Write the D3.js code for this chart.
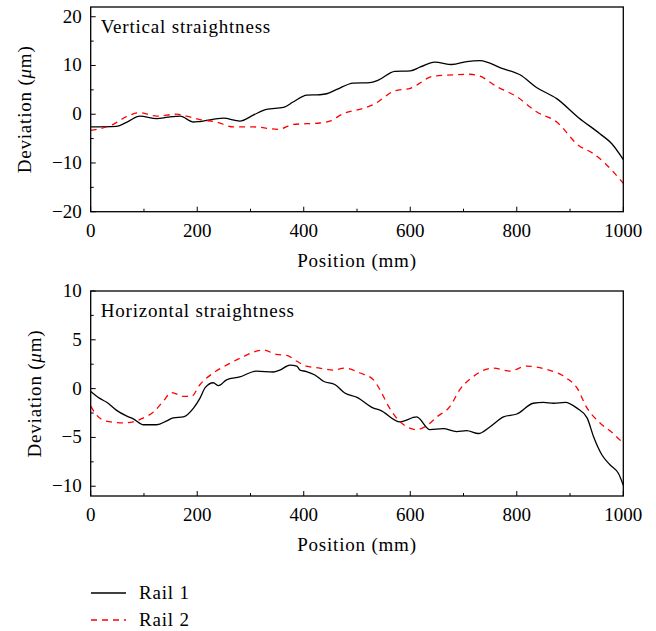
<!DOCTYPE html>
<html>
<head>
<meta charset="utf-8">
<script src="https://cdn.jsdelivr.net/npm/d3@7"></script>
<style>
  body { margin: 0; background: #fff; }
  svg { font-family: "Liberation Serif", "Times New Roman", serif; }
  .words { letter-spacing: 0.8px; }
</style>
</head>
<body>
<script>
// vertical straightness, [position mm, deviation um]
const vertRail1 = [
  [0, -2.6], [48, -2.5], [70, -1.5], [92, -0.4], [124, -0.9], [145, -0.6], [168, -0.4],
  [193, -1.6], [205, -1.5], [249, -0.8], [280, -1.4], [305, -0.2], [330, 1.0], [362, 1.4],
  [380, 2.5], [406, 3.9], [430, 4.0], [443, 4.2], [462, 5.1], [493, 6.4], [524, 6.5],
  [540, 7.0], [571, 8.8], [600, 8.9], [619, 9.7], [646, 10.7], [678, 10.2], [706, 10.8],
  [731, 11.0], [772, 9.4], [806, 8.1], [837, 5.5], [875, 3.2], [916, -0.7], [956, -4.0],
  [978, -6.0], [1000, -9.3]
];
const vertRail2 = [
  [0, -3.3], [42, -2.1], [67, -0.5], [92, 0.3], [124, -0.4], [161, 0.0], [180, -0.4],
  [205, -1.1], [236, -1.6], [268, -2.6], [305, -2.6], [352, -3.1], [380, -2.1], [430, -1.8],
  [449, -1.4], [474, 0.1], [512, 1.2], [531, 2.0], [571, 4.8], [600, 5.3], [643, 7.8],
  [668, 8.0], [712, 8.2], [731, 7.8], [762, 5.7], [800, 3.6], [837, 0.5], [875, -1.6],
  [916, -6.4], [944, -8.1], [966, -10.1], [1000, -14.2]
];

// horizontal straightness
const horzRail1 = [
  [0, -0.3], [17, -1.0], [30, -1.4], [48, -2.2], [67, -2.8], [80, -3.1], [99, -3.7],
  [124, -3.7], [143, -3.3], [155, -3.0], [174, -2.9], [193, -2.0], [205, -1.0], [215, 0.1],
  [230, 0.6], [240, 0.3], [255, 0.9], [280, 1.2], [311, 1.8], [343, 1.7], [355, 1.9],
  [374, 2.4], [387, 2.3], [393, 1.9], [405, 1.75], [421, 1.4], [437, 0.75], [459, 0.4],
  [477, -0.45], [500, -0.9], [531, -2.0], [543, -2.2], [581, -3.4], [612, -2.9],
  [637, -4.2], [662, -4.1], [687, -4.4], [706, -4.3], [728, -4.6], [750, -3.9],
  [775, -2.9], [800, -2.6], [831, -1.5], [850, -1.4], [869, -1.5], [891, -1.4],
  [913, -2.0], [932, -3.0], [944, -4.9], [960, -6.8], [975, -7.8], [991, -8.7], [1000, -9.9]
];
const horzRail2 = [
  [0, -1.8], [11, -2.7], [27, -3.3], [61, -3.5], [80, -3.4], [99, -3.0], [118, -2.4],
  [136, -1.3], [152, -0.4], [174, -0.8], [189, -0.8], [205, 0.4], [230, 1.6], [255, 2.4],
  [280, 3.1], [324, 3.95], [349, 3.5], [368, 3.4], [387, 2.8], [405, 2.3], [430, 2.1],
  [455, 1.9], [477, 2.1], [506, 1.6], [531, 0.9], [543, -0.1], [559, -1.8], [581, -3.4],
  [612, -4.2], [631, -3.8], [650, -2.9], [675, -1.8], [693, -0.1], [715, 1.1], [756, 2.1],
  [787, 1.8], [818, 2.3], [856, 1.96], [894, 1.06], [913, 0.07], [932, -2.0], [954, -3.4],
  [981, -4.6], [1000, -5.6]
];

const xTicks = [0, 200, 400, 600, 800, 1000];
const vertTicks = [-20, -10, 0, 10, 20];
const horzTicks = [-10, -5, 0, 5, 10];
const seriesNames = ["Rail 1", "Rail 2"];

const svg = d3.select("body").append("svg")
  .attr("width", 656)
  .attr("height", 631);

function drawPanel(opt) {
  const x = d3.scaleLinear().domain([0, 1000]).range([90.7, 623.3]);
  const y = d3.scaleLinear().domain(opt.domain).range([opt.bottom, opt.top]);
  const g = svg.append("g");

  // minor ticks (inside)
  g.selectAll(".xminor").data(d3.range(100, 1000, 200)).join("line")
    .attr("x1", d => x(d)).attr("x2", d => x(d))
    .attr("y1", opt.bottom).attr("y2", opt.bottom - 3)
    .attr("stroke", "#000");
  g.selectAll(".xmajor").data(xTicks).join("line")
    .attr("x1", d => x(d)).attr("x2", d => x(d))
    .attr("y1", opt.bottom).attr("y2", opt.bottom - 5)
    .attr("stroke", "#000");
  g.selectAll(".yminor").data(opt.minor).join("line")
    .attr("x1", x(0)).attr("x2", x(0) + 3)
    .attr("y1", d => y(d)).attr("y2", d => y(d))
    .attr("stroke", "#000");
  g.selectAll(".ymajor").data(opt.ticks).join("line")
    .attr("x1", x(0)).attr("x2", x(0) + 5)
    .attr("y1", d => y(d)).attr("y2", d => y(d))
    .attr("stroke", "#000");

  // tick labels
  g.selectAll(".xlab").data(xTicks).join("text")
    .attr("x", d => x(d)).attr("y", opt.bottom + 25)
    .attr("text-anchor", "middle")
    .attr("font-size", 19)
    .text(d => d);
  g.selectAll(".ylab").data(opt.ticks).join("text")
    .attr("x", x(0) - 9).attr("y", d => y(d) + 6)
    .attr("text-anchor", "end")
    .attr("font-size", 19)
    .text(d => d < 0 ? "\u2212" + Math.abs(d) : d);

  // lines
  const line = d3.line().x(d => x(d[0])).y(d => y(d[1])).curve(d3.curveMonotoneX);
  g.append("path").datum(opt.rail1)
    .attr("d", line).attr("fill", "none")
    .attr("stroke", "#000").attr("stroke-width", 1.3);
  g.append("path").datum(opt.rail2)
    .attr("d", line).attr("fill", "none")
    .attr("stroke", "#ff0000").attr("stroke-width", 1.3)
    .attr("stroke-dasharray", "6,5");

  // frame
  g.append("rect")
    .attr("x", x(0)).attr("y", opt.top)
    .attr("width", x(1000) - x(0)).attr("height", opt.bottom - opt.top)
    .attr("fill", "none").attr("stroke", "#000").attr("stroke-width", 1.3);

  g.append("text").attr("class", "words")
    .attr("x", x(0) + 10).attr("y", opt.top + 26)
    .attr("font-size", 19)
    .text(opt.title);

  g.append("text").attr("class", "words")
    .attr("x", (x(0) + x(1000)) / 2).attr("y", opt.bottom + 55)
    .attr("text-anchor", "middle")
    .attr("font-size", 19)
    .text("Position (mm)");

  const yt = g.append("text").attr("class", "words")
    .attr("transform", `translate(${opt.ylabX},${(opt.top + opt.bottom) / 2}) rotate(-90)`)
    .attr("text-anchor", "middle")
    .attr("font-size", 19);
  yt.append("tspan").text("Deviation (");
  yt.append("tspan").attr("font-style", "italic").text("\u03bc");
  yt.append("tspan").text("m)");
}

drawPanel({
  title: "Vertical straightness",
  domain: [-20, 22], top: 7, bottom: 211.7,
  ticks: vertTicks, minor: [-15, -5, 5, 15],
  rail1: vertRail1, rail2: vertRail2, ylabX: 31
});

drawPanel({
  title: "Horizontal straightness",
  domain: [-11, 10], top: 291, bottom: 496,
  ticks: horzTicks, minor: [-7.5, -2.5, 2.5, 7.5],
  rail1: horzRail1, rail2: horzRail2, ylabX: 41
});

// legend
const legend = svg.append("g");
legend.selectAll("line").data(seriesNames).join("line")
  .attr("x1", 91).attr("x2", 126)
  .attr("y1", (d, i) => 593 + i * 27).attr("y2", (d, i) => 593 + i * 27)
  .attr("stroke", (d, i) => i ? "#ff0000" : "#000")
  .attr("stroke-width", 1.3)
  .attr("stroke-dasharray", (d, i) => i ? "6,5" : null);
legend.selectAll("text").data(seriesNames).join("text").attr("class", "words")
  .attr("x", 139).attr("y", (d, i) => 599 + i * 27)
  .attr("font-size", 19)
  .text(d => d);
</script>
</body>
</html>
